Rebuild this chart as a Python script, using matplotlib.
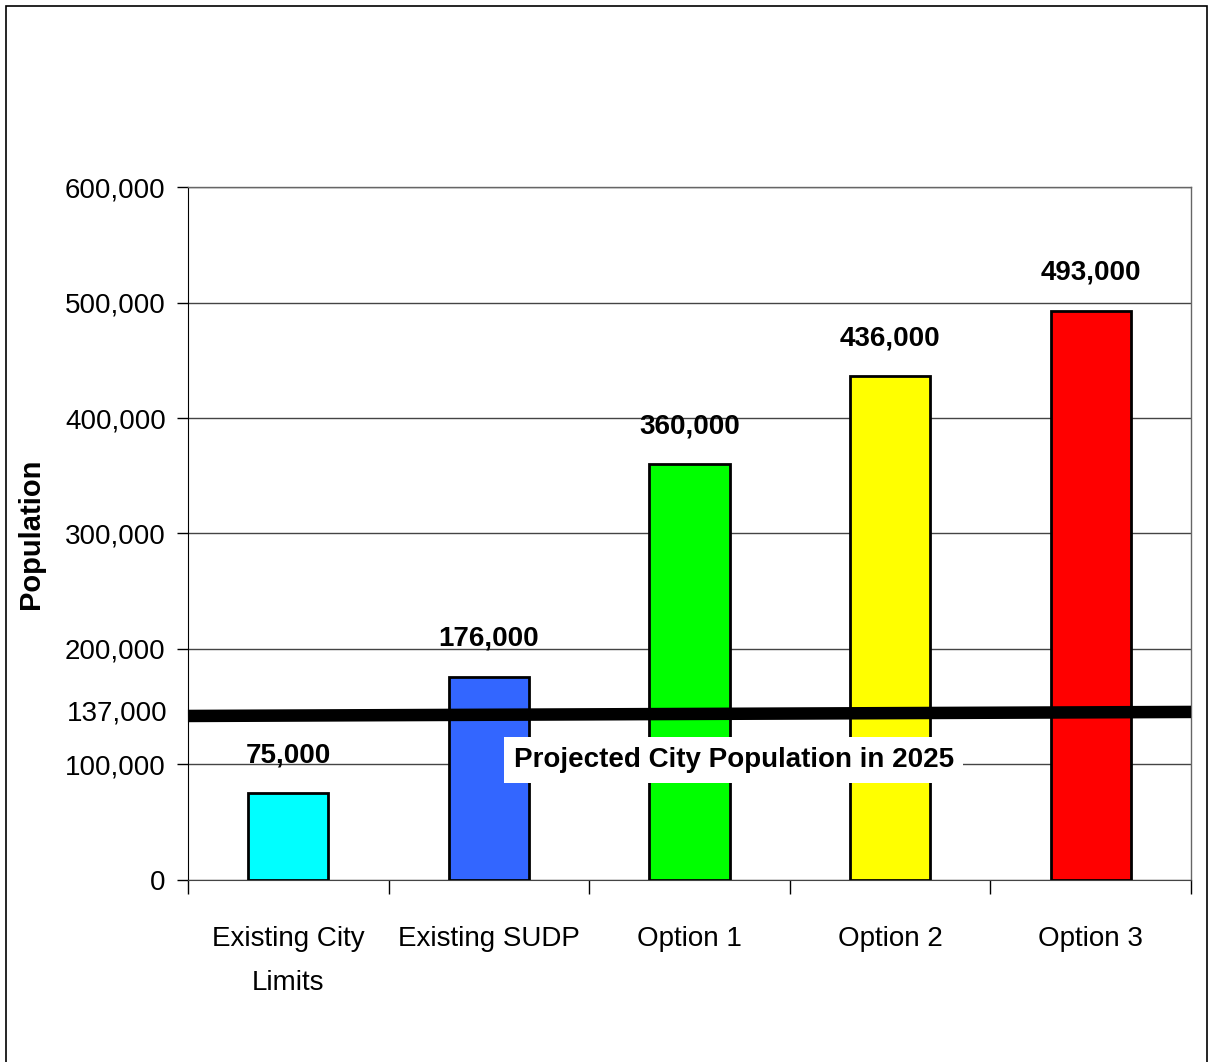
import matplotlib
matplotlib.use('Agg')
import matplotlib.pyplot as plt
from matplotlib.patches import Rectangle
import matplotlib.transforms as mtransforms

plt.rcParams['font.family'] = ['Liberation Sans', 'DejaVu Sans']

categories = ['Existing City\nLimits', 'Existing SUDP', 'Option 1', 'Option 2', 'Option 3']
population = [75000, 176000, 360000, 436000, 493000]
value_labels = ['75,000', '176,000', '360,000', '436,000', '493,000']
bar_colors = ['#00FFFF', '#3366FF', '#00FF00', '#FFFF00', '#FF0000']

yticks = [0, 100000, 200000, 300000, 400000, 500000, 600000]
ytick_labels = ['0', '100,000', '200,000', '300,000', '400,000', '500,000', '600,000']

# projected line (left end, right end)
projected_label = '137,000'
projected_line = [142000, 145500]
projected_text = 'Projected City Population in 2025'

fs = 20

fig = plt.figure(figsize=(12.11, 10.62), dpi=100)
ax = fig.add_axes([0.1552, 0.1714, 0.8283, 0.6525])

x = list(range(len(categories)))
ax.bar(x, population, width=0.4, color=bar_colors, edgecolor='black', linewidth=2, zorder=3)

for xi, v, lab in zip(x, population, value_labels):
    ax.annotate(lab, (xi, v), xytext=(0, 18), textcoords='offset points',
                ha='center', va='bottom', fontsize=fs, fontweight='bold', zorder=5)

ax.set_xlim(-0.5, 4.5)
ax.set_ylim(0, 600000)
ax.set_yticks(yticks)
ax.set_yticklabels(ytick_labels, fontsize=fs)
ax.set_xticks([i + 0.5 for i in range(-1, 5)], minor=False)
ax.set_xticklabels([])
ax.set_xticks(x, minor=True)
ax.set_xticklabels(categories, minor=True, fontsize=fs, linespacing=1.9)
ax.tick_params(axis='x', which='major', direction='out', length=10, width=1)
ax.tick_params(axis='x', which='minor', length=0, pad=33)
ax.tick_params(axis='y', direction='out', length=8, width=1, pad=8)

ax.yaxis.grid(True, color='#444444', linewidth=1, zorder=0)
for s in ['top', 'right']:
    ax.spines[s].set_color('#666666')
    ax.spines[s].set_linewidth(1)
ax.spines['left'].set_color('black')
ax.spines['bottom'].set_color('#444444')

ax.plot([-0.5, 4.5], projected_line, color='black', linewidth=9, solid_capstyle='butt',
        zorder=4, clip_on=False)
trans = mtransforms.blended_transform_factory(ax.transAxes, ax.transData)
ax.text(-0.02, sum(projected_line) / 2, projected_label, transform=trans,
        ha='right', va='center', fontsize=fs)
ax.text(2.22, 104000, projected_text, ha='center', va='center', fontsize=fs,
        fontweight='bold', zorder=6,
        bbox=dict(facecolor='white', edgecolor='none', pad=7))

ax.set_ylabel('Population', fontsize=21, fontweight='bold')
ax.yaxis.set_label_coords(-0.143, 0.5)

fig.patches.append(Rectangle((0.005, -0.01), 0.992, 1.004, transform=fig.transFigure,
                             fill=False, edgecolor='black', linewidth=1.2))

fig.savefig('out.png', dpi=100)
